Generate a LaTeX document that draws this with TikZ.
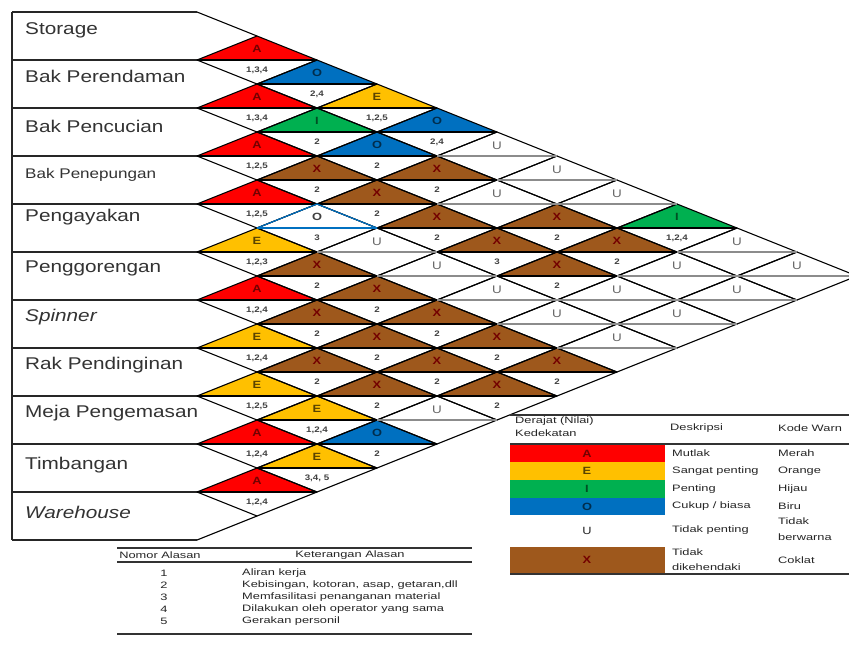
\documentclass[tikz,border=0pt]{standalone}
\usepackage{fontspec}
\setmainfont[FakeStretch=1.22]{Liberation Sans}
\newfontfamily\tabfont[FakeStretch=1.38]{Liberation Sans}
\definecolor{cA}{RGB}{255,0,0}
\definecolor{cE}{RGB}{255,192,0}
\definecolor{cI}{RGB}{0,176,80}
\definecolor{cO}{RGB}{0,112,192}
\definecolor{cX}{RGB}{158,88,28}
\definecolor{cU}{RGB}{255,255,255}
\definecolor{cW}{RGB}{255,255,255}
\colorlet{mA}{black}\colorlet{mE}{black}\colorlet{mI}{black}
\colorlet{mO}{black}\colorlet{mX}{black}\colorlet{mU}{black!45}
\colorlet{mW}{cO}
\colorlet{kA}{cA!45!black}\colorlet{kE}{cE!35!black}\colorlet{kI}{cI!45!black}
\colorlet{kO}{cO!40!black}\colorlet{kX}{cA!45!black}\colorlet{kU}{black!65}
\colorlet{kW}{black!75}
\def\arcdata{%
1/2/A/A/{1,3,4},2/3/A/A/{1,3,4},3/4/A/A/{1,2,5},4/5/A/A/{1,2,5},%
5/6/E/E/{1,2,3},6/7/A/A/{1,2,4},7/8/E/E/{1,2,4},8/9/E/E/{1,2,5},%
9/10/A/A/{1,2,4},10/11/A/A/{1,2,4},%
1/3/O/O/{2,4},2/4/I/I/{2},3/5/X/X/{2},4/6/W/O/{3},5/7/X/X/{2},%
6/8/X/X/{2},7/9/X/X/{2},8/10/E/E/{1,2,4},9/11/E/E/{3,4, 5},%
1/4/E/E/{1,2,5},2/5/O/O/{2},3/6/X/X/{2},4/7/U/U/{},5/8/X/X/{2},%
6/9/X/X/{2},7/10/X/X/{2},8/11/O/O/{2},%
1/5/O/O/{2,4},2/6/X/X/{2},3/7/X/X/{2},4/8/U/U/{},5/9/X/X/{2},%
6/10/X/X/{2},7/11/U/U/{},%
1/6/U/U/{},2/7/U/U/{},3/8/X/X/{3},4/9/U/U/{},5/10/X/X/{2},6/11/X/X/{2},%
1/7/U/U/{},2/8/X/X/{2},3/9/X/X/{2},4/10/U/U/{},5/11/X/X/{2},%
1/8/U/U/{},2/9/X/X/{2},3/10/U/U/{},4/11/U/U/{},%
1/9/I/I/{1,2,4},2/10/U/U/{},3/11/U/U/{},%
1/10/U/U/{},2/11/U/U/{},%
1/11/U/U/{}}
\def\codeU{U}
\begin{document}
\begin{tikzpicture}[x=1pt,y=-1pt,
  edge/.style={line width=1.1pt,black},
  boxline/.style={line width=1.1pt,black!85},
  lbl/.style={anchor=west,inner sep=0pt,font=\fontsize{17}{17}\selectfont,text=black!80},
  ltr/.style={inner sep=0pt,font=\fontsize{10.5}{10.5}\selectfont\bfseries},
  ultr/.style={inner sep=0pt,font=\fontsize{11}{11}\selectfont,text=black!60},
  rsn/.style={inner sep=0pt,font=\fontsize{8}{8}\selectfont\bfseries,text=black!75},
  tb/.style={inner sep=0pt,font=\tabfont\fontsize{9.3}{10}\selectfont,text=black!85},
  tbw/.style={tb,anchor=west},
  rule/.style={line width=1.6pt,black!80},
  thinrule/.style={line width=1.1pt,black!80}]
\clip (0,0) rectangle (849,646);
\fill[white] (0,0) rectangle (849,646);

% ---- label column
\draw[boxline] (12,12) -- (12,540);
\foreach \k in {0,...,11}{\draw[boxline] (12,{12+48*\k}) -- (197,{12+48*\k});}
\draw[edge] (197,12) -- (257,36);
\draw[edge] (197,540) -- (257,516);

\node[lbl] (row1) at (25,30) {Storage};
\node[lbl] (row2) at (25,76) {Bak Perendaman};
\node[lbl] (row3) at (25,126) {Bak Pencucian};
\node[lbl,font=\fontsize{14}{14}\selectfont] (row4) at (25,175) {Bak Penepungan};
\node[lbl] (row5) at (25,217) {Pengayakan};
\node[lbl] (row6) at (25,268) {Penggorengan};
\node[lbl,font=\fontsize{17}{17}\selectfont\itshape] (row7) at (25,317) {Spinner};
\node[lbl] (row8) at (25,365) {Rak Pendinginan};
\node[lbl] (row9) at (25,413) {Meja Pengemasan};
\node[lbl] (row10) at (25,465) {Timbangan};
\node[lbl,font=\fontsize{17}{17}\selectfont\itshape] (row11) at (25,512) {Warehouse};

% ---- fills of the rating triangles
\foreach \ii/\jj/\cl/\lt/\rs in \arcdata{
  \pgfmathsetmacro\cx{197+60*(\jj-\ii)}
  \pgfmathsetmacro\cy{36+24*(\ii+\jj-2)}
  \fill[fill=c\cl] (\cx-60,\cy) -- (\cx,\cy-24) -- (\cx+60,\cy) -- cycle;
}
% ---- diamond outlines
\foreach \ii/\jj/\cl/\lt/\rs in \arcdata{
  \pgfmathsetmacro\cx{197+60*(\jj-\ii)}
  \pgfmathsetmacro\cy{36+24*(\ii+\jj-2)}
  \draw[edge,line join=round] (\cx-60,\cy) -- (\cx,\cy-24) -- (\cx+60,\cy) -- (\cx,\cy+24) -- cycle;
}
% ---- mid lines
\foreach \ii/\jj/\cl/\lt/\rs in \arcdata{
  \pgfmathsetmacro\cx{197+60*(\jj-\ii)}
  \pgfmathsetmacro\cy{36+24*(\ii+\jj-2)}
  \draw[line width=1.1pt,draw=m\cl] (\cx-60,\cy) -- (\cx+60,\cy);
}
% ---- white O triangle with blue outline (Pengayakan - Penggorengan)
\draw[line width=1.2pt,cO,line join=round] (257,228) -- (317,204) -- (377,228) -- cycle;
% ---- letters and reasons
\foreach \ii/\jj/\cl/\lt/\rs in \arcdata{
  \pgfmathsetmacro\cx{197+60*(\jj-\ii)}
  \pgfmathsetmacro\cy{36+24*(\ii+\jj-2)}
  \edef\cc{\cl}
  \ifx\cc\codeU
    \node[ultr] (let\ii-\jj) at (\cx,\cy-10) {\lt};
  \else
    \node[ltr,text=k\cl] (let\ii-\jj) at (\cx,\cy-11) {\lt};
  \fi
  \node[rsn] (why\ii-\jj) at (\cx,\cy+10) {\rs};
}

% ---- legend table (closeness ratings)
\draw[rule] (510,415) -- (849,415);
\node[tbw] (hd1) at (515,421) {Derajat (Nilai)};
\node[tbw] (hd2) at (515,433) {Kedekatan};
\node[tbw] (hd3) at (670,428) {Deskripsi};
\node[tbw] (hd4) at (778,428) {Kode Warn};
\draw[thinrule] (510,444) -- (849,444);
\fill[cA] (510,445) rectangle (665,462);
\fill[cE] (510,462) rectangle (665,480);
\fill[cI] (510,480) rectangle (665,498);
\fill[cO] (510,498) rectangle (665,515);
\fill[cX] (510,547) rectangle (665,573);
\node[ltr,text=kA] (lgA) at (587,453.5) {A};
\node[ltr,text=kE] (lgE) at (587,471) {E};
\node[ltr,text=kI] (lgI) at (587,489) {I};
\node[ltr,text=kO] (lgO) at (587,506.5) {O};
\node[ltr,text=black!85,font=\fontsize{10.5}{10.5}\selectfont] (lgU) at (587,531) {U};
\node[ltr,text=kX] (lgX) at (587,560) {X};
\node[tbw] (ds1) at (672,453) {Mutlak};
\node[tbw] (ds2) at (672,471) {Sangat penting};
\node[tbw] (ds3) at (672,489) {Penting};
\node[tbw] (ds4) at (672,506) {Cukup / biasa};
\node[tbw] (ds5) at (672,530) {Tidak penting};
\node[tbw] (ds6) at (672,552) {Tidak};
\node[tbw] (ds7) at (672,567) {dikehendaki};
\node[tbw] (kw1) at (778,453) {Merah};
\node[tbw] (kw2) at (778,471) {Orange};
\node[tbw] (kw3) at (778,489) {Hijau};
\node[tbw] (kw4) at (778,506) {Biru};
\node[tbw] (kw5) at (778,521) {Tidak};
\node[tbw] (kw6) at (778,537) {berwarna};
\node[tbw] (kw7) at (778,560) {Coklat};
\draw[rule] (510,574) -- (849,574);

% ---- reasons table
\draw[rule] (117,548) -- (472,548);
\node[tb] (nh1) at (160,555) {Nomor Alasan};
\node[tb] (nh2) at (350,555) {Keterangan Alasan};
\draw[thinrule] (117,562) -- (472,562);
\node[tb] (n1) at (164,573) {1};
\node[tbw] (k1) at (242,573) {Aliran kerja};
\node[tb] (n2) at (164,585) {2};
\node[tbw] (k2) at (242,585) {Kebisingan, kotoran, asap, getaran,dll};
\node[tb] (n3) at (164,597) {3};
\node[tbw] (k3) at (242,597) {Memfasilitasi penanganan material};
\node[tb] (n4) at (164,609) {4};
\node[tbw] (k4) at (242,609) {Dilakukan oleh operator yang sama};
\node[tb] (n5) at (164,621) {5};
\node[tbw] (k5) at (242,621) {Gerakan personil};
\draw[rule] (117,634) -- (472,634);
\end{tikzpicture}
\end{document}
